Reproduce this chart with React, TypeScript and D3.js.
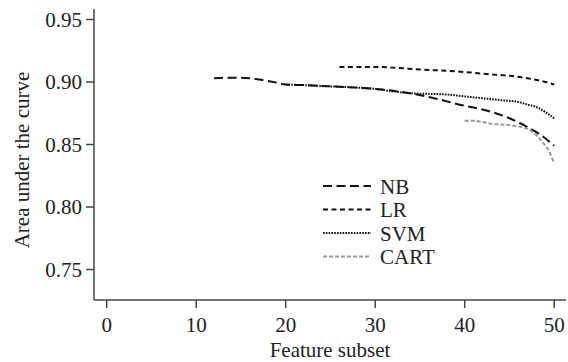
import { useRef, useEffect } from "react";
import * as d3 from "d3";

// feature subset size vs. AUC
const nbX = [12, 13.5, 15, 17, 19, 20, 22, 25, 28, 30, 33, 36, 40, 42, 45, 47, 49, 50];
const nbY = [0.903, 0.9035, 0.9035, 0.902, 0.8995, 0.898, 0.8975, 0.8965, 0.8955, 0.8945, 0.892, 0.888, 0.881, 0.878, 0.871, 0.864, 0.855, 0.849];

const lrX = [26, 28, 30, 32, 35, 38, 40, 43, 45, 47, 49, 50];
const lrY = [0.912, 0.912, 0.912, 0.9115, 0.91, 0.909, 0.908, 0.906, 0.905, 0.903, 0.9, 0.898];

const svmX = [20, 22, 25, 28, 30, 32, 34, 36, 38, 40, 42, 44, 46, 47, 48, 49, 50];
const svmY = [0.898, 0.8975, 0.8965, 0.8955, 0.8945, 0.8925, 0.891, 0.8905, 0.89, 0.8885, 0.887, 0.8855, 0.884, 0.882, 0.88, 0.876, 0.871];

const cartX = [40, 41, 42, 43, 44, 45, 46, 47, 47.6, 48.2, 48.8, 49.4, 50];
const cartY = [0.869, 0.869, 0.868, 0.8665, 0.866, 0.8655, 0.8645, 0.8625, 0.86, 0.856, 0.851, 0.845, 0.835];

const xTicks = [0, 10, 20, 30, 40, 50];
const yTicks = [0.75, 0.8, 0.85, 0.9, 0.95];

const series = [
  { name: "NB", xs: nbX, ys: nbY, color: "#111", dash: "9,4.5", width: 2 },
  { name: "LR", xs: lrX, ys: lrY, color: "#111", dash: "5,3.5", width: 2 },
  { name: "SVM", xs: svmX, ys: svmY, color: "#111", dash: "1.6,1.2", width: 2 },
  { name: "CART", xs: cartX, ys: cartY, color: "#999", dash: "4,2", width: 2 },
];

export default function App() {
  const svgRef = useRef<SVGSVGElement | null>(null);

  useEffect(() => {
    if (!svgRef.current) return;
    const font = "Liberation Serif, DejaVu Serif, serif";
    const axisColor = "#444";
    const textColor = "#222";

    const svg = d3.select(svgRef.current);
    svg.selectAll("*").remove();

    const x = d3.scaleLinear().domain([0, 10]).range([106.7, 196.2]);
    const y = d3.scaleLinear().domain([0.9, 0.85]).range([82, 144.5]);
    const xLeft = 94;
    const yBottom = 300;
    const yTop = 9;
    const xRight = 566;

    const txt = (sel: any) =>
      sel.attr("fill", textColor).style("font-size", "21px").style("font-family", font);

    // axes lines
    svg.append("line")
      .attr("x1", xLeft).attr("x2", xLeft)
      .attr("y1", yTop).attr("y2", yBottom)
      .attr("stroke", axisColor).attr("stroke-width", 1.5);
    svg.append("line")
      .attr("x1", xLeft).attr("x2", xRight)
      .attr("y1", yBottom).attr("y2", yBottom)
      .attr("stroke", axisColor).attr("stroke-width", 1.5);

    // y ticks
    const yt = svg.append("g");
    yTicks.forEach((t) => {
      yt.append("line")
        .attr("x1", xLeft - 8).attr("x2", xLeft)
        .attr("y1", y(t)).attr("y2", y(t))
        .attr("stroke", axisColor).attr("stroke-width", 1.5);
      yt.append("text")
        .attr("x", xLeft - 12)
        .attr("y", y(t))
        .attr("dy", "0.34em")
        .attr("text-anchor", "end")
        .call(txt)
        .text(d3.format(".2f")(t));
    });

    // x ticks
    const xt = svg.append("g");
    xTicks.forEach((t) => {
      xt.append("line")
        .attr("x1", x(t)).attr("x2", x(t))
        .attr("y1", yBottom).attr("y2", yBottom + 8)
        .attr("stroke", axisColor).attr("stroke-width", 1.5);
      xt.append("text")
        .attr("x", x(t))
        .attr("y", 332)
        .attr("text-anchor", "middle")
        .call(txt)
        .text(t);
    });

    // axis titles
    svg.append("text")
      .attr("x", 330)
      .attr("y", 357)
      .attr("text-anchor", "middle")
      .call(txt)
      .text("Feature subset");

    svg.append("text")
      .attr("transform", "translate(29,160) rotate(-90)")
      .attr("text-anchor", "middle")
      .call(txt)
      .text("Area under the curve");

    // curves
    const line = d3.line<[number, number]>()
      .x((d) => x(d[0]))
      .y((d) => y(d[1]))
      .curve(d3.curveMonotoneX);

    series.forEach((s) => {
      const pts = s.xs.map((v, i) => [v, s.ys[i]] as [number, number]);
      svg.append("path")
        .datum(pts)
        .attr("d", line)
        .attr("fill", "none")
        .attr("stroke", s.color)
        .attr("stroke-width", s.width)
        .attr("stroke-dasharray", s.dash);
    });

    // legend
    const lg = svg.append("g");
    series.forEach((s, i) => {
      const ly = 186 + i * 23.5;
      lg.append("line")
        .attr("x1", 323).attr("x2", 371)
        .attr("y1", ly).attr("y2", ly)
        .attr("stroke", s.color)
        .attr("stroke-width", s.width)
        .attr("stroke-dasharray", s.dash);
      lg.append("text")
        .attr("x", 380)
        .attr("y", ly)
        .attr("dy", "0.36em")
        .call(txt)
        .text(s.name);
    });
  }, []);

  return (
    <svg
      ref={svgRef}
      width={568}
      height={362}
      style={{ position: "absolute", left: 0, top: 0, background: "#fff" }}
    />
  );
}
